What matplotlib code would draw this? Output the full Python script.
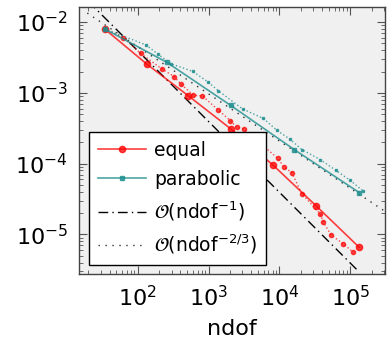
import numpy as np
import matplotlib
matplotlib.use("Agg")
import matplotlib.pyplot as plt

# convergence data
equal_ndof = [34, 134, 519, 2060, 8220, 32960, 133700]
equal_err = [8.0e-3, 2.55e-3, 9.06e-4, 3.09e-4, 9.42e-5, 2.53e-5, 6.55e-6]

parabolic_ndof = [34, 257, 2060, 16290, 133700]
parabolic_err = [8.0e-3, 2.70e-3, 6.62e-4, 1.57e-4, 3.90e-5]

# secondary (dotted) runs, not in the legend
equal2_ndof = [34, 62.7, 110, 220, 326, 409, 610, 817, 1374, 2032, 2500, 3141,
               9441, 11640, 14960, 20700, 37580, 41780, 53700, 80170, 110900]
equal2_err = [8.02e-3, 6.03e-3, 3.60e-3, 2.17e-3, 1.70e-3, 1.32e-3, 9.27e-4, 9.06e-4,
              5.69e-4, 4.04e-4, 3.26e-4, 3.10e-4, 1.19e-4, 8.91e-5, 7.43e-5, 3.74e-5,
              1.95e-5, 1.48e-5, 9.8e-6, 7.31e-6, 5.56e-6]

parabolic2_ndof = [34, 131, 191, 295, 598, 975, 1374, 3020, 5943, 9183, 14160,
                   20700, 37580, 62660, 99770, 150700]
parabolic2_err = [8.0e-3, 4.75e-3, 3.54e-3, 2.57e-3, 2.01e-3, 1.43e-3, 1.07e-3, 5.92e-4,
                  4.34e-4, 2.96e-4, 2.20e-4, 1.58e-4, 1.14e-4, 8.02e-5, 5.78e-5, 4.13e-5]

# reference slopes
ref1_range = [20, 1.25e5]
ref1_coef = 0.393
ref23_range = [19.4, 3.2e5]
ref23_coef = 0.0966

red = "#ff0000"
teal = "#1f8f8f"

fig = plt.figure(figsize=(3.88, 3.5), dpi=100)
ax = fig.add_axes([0.2036, 0.2171, 0.7887, 0.763])
ax.set_facecolor("#f0f0f0")

ax.plot(equal_ndof, equal_err, "-o", color=red, alpha=0.75, lw=1.2, ms=4.5,
        mfc=red, mec=red, label="equal", zorder=4)
ax.plot(parabolic_ndof, parabolic_err, "-s", color=teal, alpha=0.8, lw=1.2, ms=2.2,
        label="parabolic", zorder=4)
ax.plot(equal2_ndof, equal2_err, ":o", color=red, alpha=0.7, lw=1.0, ms=3, zorder=3)
ax.plot(parabolic2_ndof, parabolic2_err, ":s", color=teal, alpha=0.8, lw=1.0, ms=2,
        zorder=3)

x1 = np.array(ref1_range)
ax.plot(x1, ref1_coef / x1, color="k", lw=1.0, dashes=(7, 3, 1, 3),
        label=r"$\mathcal{O}(\mathrm{ndof}^{-1})$", zorder=2)
x2 = np.array(ref23_range)
ax.plot(x2, ref23_coef * x2 ** (-2.0 / 3.0), color="k", lw=1.0, dashes=(1, 4),
        alpha=0.8, label=r"$\mathcal{O}(\mathrm{ndof}^{-2/3})$", zorder=2)

ax.set_xscale("log")
ax.set_yscale("log")
ax.set_xlim(10 ** 1.171, 10 ** 5.49)
ax.set_ylim(10 ** -5.56, 10 ** -1.787)
ax.set_xlabel("ndof", fontsize=16, labelpad=6)

ax.tick_params(which="both", direction="in", top=True, right=True, color="#555555")
ax.tick_params(which="major", length=6, labelsize=16, pad=8)
ax.tick_params(which="minor", length=3)
for s in ax.spines.values():
    s.set_color("#444444")
    s.set_linewidth(1.0)

leg = ax.legend(loc="lower left", bbox_to_anchor=(0.033, 0.034), borderaxespad=0,
                fontsize=13.5, fancybox=False, edgecolor="k", framealpha=1,
                handlelength=2.6, handletextpad=0.4, labelspacing=0.55,
                borderpad=0.45)
leg.get_frame().set_linewidth(1.0)

fig.savefig("out.png", dpi=100)
